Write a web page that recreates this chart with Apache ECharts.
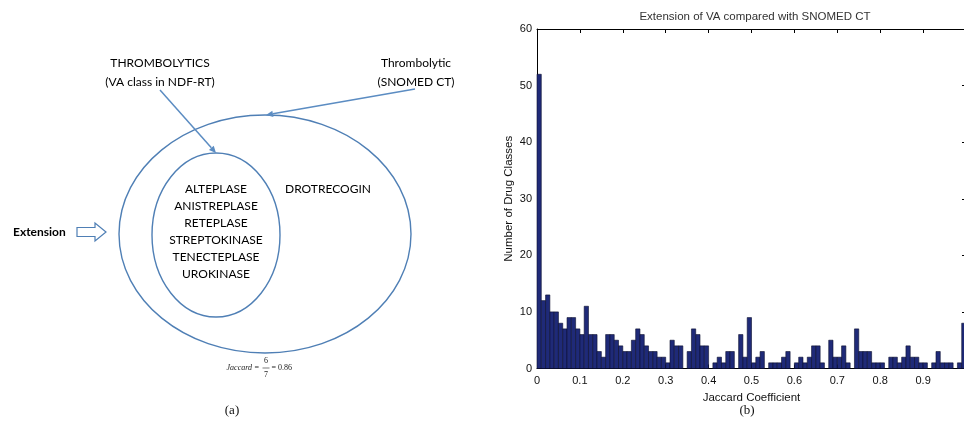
<!DOCTYPE html>
<html><head><meta charset="utf-8">
<script src="https://cdn.jsdelivr.net/npm/echarts@6/dist/echarts.min.js"></script>
<style>html,body{margin:0;padding:0;background:#fff;}#c{width:964px;height:422px;}</style>
</head><body><div id="c"></div>
<script>
// ---- Data (histogram b) ----
const binWidth = 0.01;
const counts = [52,12,13,10,10,8,7,9,9,7, 6,11,6,6,3,2,6,6,5,4, 3,3,5,7,6,4,3,3,2,2, 1,5,4,4,0,3,7,6,4,4, 0,1,2,1,3,3,0,6,2,9,
                1,2,3,0,1,1,1,2,3,0, 1,2,1,2,4,4,1,0,5,2, 2,4,1,0,7,3,3,3,1,1, 1,0,2,2,1,2,4,2,2,1, 1,0,1,3,1,1,1,0,1,8];
const xTicks = [0,0.1,0.2,0.3,0.4,0.5,0.6,0.7,0.8,0.9,1];
const yTicks = [0,10,20,30,40,50,60];
const chartTitle = 'Extension of VA compared with SNOMED CT';
const xName = 'Jaccard Coefficient';
const yName = 'Number of Drug Classes';
// ---- Diagram (a) texts ----
const innerDrugs = ['ALTEPLASE','ANISTREPLASE','RETEPLASE','STREPTOKINASE','TENECTEPLASE','UROKINASE'];
const outerDrugs = ['DROTRECOGIN'];
const vaLabel = ['THROMBOLYTICS','(VA class in NDF-RT)'];
const snomedLabel = ['Thrombolytic','(SNOMED CT)'];
const jaccardNum = 6, jaccardDen = 7, jaccardVal = '0.86';

const histData = counts.map((c,i)=>[i*binWidth, c]);

const blue = '#4f7fb5';
const sans = 'Lato, "Open Sans", sans-serif';
const g = [];
// ellipses
g.push({type:'ellipse', shape:{cx:265, cy:234, rx:146, ry:119}, style:{fill:'none', stroke:blue, lineWidth:1.4}});
g.push({type:'ellipse', shape:{cx:216, cy:235, rx:64, ry:82}, style:{fill:'none', stroke:blue, lineWidth:1.4}});
innerDrugs.forEach((t,i)=>g.push({type:'text', x:216, y:189+i*17, style:{text:t, fill:'#000', font:'12px '+sans, align:'center', verticalAlign:'middle'}}));
outerDrugs.forEach((t,i)=>g.push({type:'text', x:328, y:189+i*17, style:{text:t, fill:'#000', font:'12px '+sans, align:'center', verticalAlign:'middle'}}));
vaLabel.forEach((t,i)=>g.push({type:'text', x:160, y:63+i*19, style:{text:t, fill:'#000', font:'12px '+sans, align:'center', verticalAlign:'middle'}}));
snomedLabel.forEach((t,i)=>g.push({type:'text', x:416, y:63+i*19, style:{text:t, fill:'#000', font:'12px '+sans, align:'center', verticalAlign:'middle'}}));
g.push({type:'text', x:13, y:232, style:{text:'Extension', fill:'#000', font:'bold 12px '+sans, align:'left', verticalAlign:'middle'}});
// hollow block arrow
g.push({type:'polygon', shape:{points:[[77,227.5],[95,227.5],[95,223],[106,232],[95,241],[95,236.5],[77,236.5]]}, style:{fill:'#fff', stroke:blue, lineWidth:1.2}});
// pointer arrows
function arrow(x1,y1,x2,y2){
  const a = Math.atan2(y2-y1, x2-x1), L = 7, W = 3.2;
  const bx = x2 - L*Math.cos(a), by = y2 - L*Math.sin(a);
  g.push({type:'line', shape:{x1, y1, x2:bx, y2:by}, style:{stroke:'#5b8cc2', lineWidth:1.5}});
  g.push({type:'polygon', shape:{points:[[x2,y2],[bx+W*Math.sin(a), by-W*Math.cos(a)],[bx-W*Math.sin(a), by+W*Math.cos(a)]]}, style:{fill:'#5b8cc2'}});
}
arrow(160,90,216,153);
arrow(415,89,266,115);
// Jaccard formula
const serif = '"Liberation Serif","DejaVu Serif",serif';
g.push({type:'text', x:252, y:368, style:{text:'Jaccard', fill:'#222', font:'italic 8px '+serif, align:'right', verticalAlign:'middle'}});
g.push({type:'text', x:254.5, y:368, style:{text:'=', fill:'#222', font:'8px '+serif, align:'left', verticalAlign:'middle'}});
g.push({type:'text', x:266, y:361, style:{text:String(jaccardNum), fill:'#222', font:'8px '+serif, align:'center', verticalAlign:'middle'}});
g.push({type:'line', shape:{x1:262.5, y1:368, x2:269.5, y2:368}, style:{stroke:'#222', lineWidth:0.6}});
g.push({type:'text', x:266, y:375, style:{text:String(jaccardDen), fill:'#222', font:'8px '+serif, align:'center', verticalAlign:'middle'}});
g.push({type:'text', x:271.5, y:368, style:{text:'= '+jaccardVal, fill:'#222', font:'8px '+serif, align:'left', verticalAlign:'middle'}});
// captions
g.push({type:'text', x:232, y:411, style:{text:'(a)', fill:'#111', font:'13px '+serif, align:'center', verticalAlign:'middle'}});
g.push({type:'text', x:747, y:411, style:{text:'(b)', fill:'#111', font:'13px '+serif, align:'center', verticalAlign:'middle'}});

const axisFont = {fontFamily:'"Liberation Sans", Arial, sans-serif', fontSize:11, color:'#111'};
const lineStyle = {color:'#000', width:1};
const chart = echarts.init(document.getElementById('c'));
chart.setOption({
  animation:false,
  backgroundColor:'#fff',
  title:{text:chartTitle, left:750, top:6, textAlign:'center', textStyle:{fontFamily:'"Liberation Sans", Arial, sans-serif', fontSize:11.5, fontWeight:'normal', color:'#333'}},
  grid:{left:537, top:29, width:429, height:339.5, containLabel:false, outerBoundsMode:'none'},
  xAxis:[
    {type:'value', min:0, max:1, interval:0.1, position:'bottom',
     axisLine:{show:true, onZero:false, lineStyle}, axisTick:{show:true, inside:true, length:4, lineStyle:{color:'#000'}},
     axisLabel:Object.assign({margin:7, formatter:v=>{const i=xTicks.findIndex(t=>Math.abs(t-v)<1e-6); return (i<0||v>=1)?'':String(xTicks[i]);}}, axisFont),
     splitLine:{show:false}, name:xName, nameLocation:'middle', nameGap:20, nameTextStyle:Object.assign({}, axisFont, {fontSize:11.5})},
    {type:'value', min:0, max:1, interval:0.1, position:'top',
     axisLine:{show:true, onZero:false, lineStyle}, axisTick:{show:true, inside:true, length:4, lineStyle:{color:'#000'}},
     axisLabel:{show:false}, splitLine:{show:false}}
  ],
  yAxis:[
    {type:'value', min:0, max:60, interval:10, position:'left',
     axisLine:{show:true, onZero:false, lineStyle}, axisTick:{show:true, inside:true, length:4, lineStyle:{color:'#000'}},
     axisLabel:Object.assign({margin:5, formatter:v=>String(yTicks[yTicks.indexOf(v)] ?? '')}, axisFont),
     splitLine:{show:false}, name:yName, nameLocation:'middle', nameGap:22, nameTextStyle:Object.assign({}, axisFont, {fontSize:11.5})},
    {type:'value', min:0, max:60, interval:10, position:'right',
     axisLine:{show:true, onZero:false, lineStyle}, axisTick:{show:true, inside:true, length:4, lineStyle:{color:'#000'}},
     axisLabel:{show:false}, splitLine:{show:false}}
  ],
  series:[{
    type:'custom', xAxisIndex:0, yAxisIndex:0, data:histData,
    renderItem:(params, api)=>{
      const x0 = api.value(0), h = api.value(1);
      if (!h) return null;
      const p0 = api.coord([x0, h]), p1 = api.coord([x0+binWidth, 0]);
      return {type:'rect', shape:{x:p0[0], y:p0[1], width:p1[0]-p0[0], height:p1[1]-p0[1]},
              style:{fill:'#1f2a78', stroke:'#0a0e2e', lineWidth:0.6}};
    }
  }],
  graphic:g
});
</script></body></html>
